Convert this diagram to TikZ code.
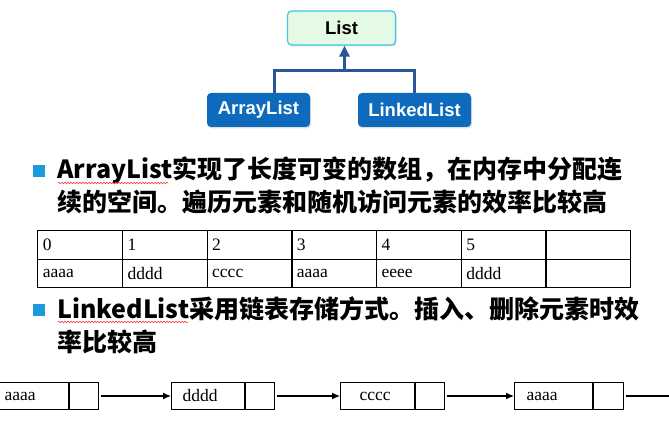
\documentclass[tikz,border=0pt]{standalone}
\usepackage{fontspec}
\setmainfont{Liberation Serif}
\newfontfamily\cjk{Noto Sans CJK SC}
\newfontfamily\boxfont{Liberation Sans}
\newfontfamily\cellfont{Liberation Serif}
\definecolor{boxblue}{RGB}{14, 106, 188}
\definecolor{treeblue}{RGB}{42, 86, 152}
\definecolor{listfill}{RGB}{228, 250, 228}
\definecolor{listline}{RGB}{60, 200, 235}
\definecolor{bullet}{RGB}{28, 155, 218}
\usetikzlibrary{arrows.meta}
\usetikzlibrary{calc}
\usetikzlibrary{positioning}
\usetikzlibrary{matrix}
\usetikzlibrary{shadows}
\usetikzlibrary{decorations.pathmorphing}
\tikzset{
  every matrix/.style={
    inner sep=0pt, column sep=-1.2pt, row sep=-1.2pt,
    matrix of nodes, nodes in empty cells,
    nodes={draw, line width=1.2pt, anchor=center, align=left,
           text width=74.7pt, inner xsep=5pt, minimum height=28.5pt,
           font=\cellfont\fontsize{17.5}{19}\selectfont},
    ampersand replacement=\&
  },
  class/.style={rounded corners=4pt, minimum height=34pt,
    font=\boxfont\bfseries\fontsize{18.5}{20}\selectfont,
    drop shadow={shadow xshift=1pt, shadow yshift=-1.5pt, opacity=0.25}},
  super/.style={class, draw=listline, fill=listfill, line width=1.2pt,
    minimum width=108pt},
  sub/.style={class, fill=boxblue, text=white},
  tree/.style={draw=treeblue, line width=3pt},
  dot/.style={fill=bullet, minimum size=12pt, inner sep=0pt},
  point/.style={anchor=north west, inner sep=0pt, align=left,
    font=\cjk\bfseries\fontsize{25}{33}\selectfont},
  typo/.style={draw=red!75, line width=0.6pt, decorate,
    decoration={snake, amplitude=0.8pt, segment length=3pt}},
  datum/.style={draw, line width=1.2pt, anchor=west, align=left,
    minimum height=27pt, font=\cellfont\fontsize{17.5}{19}\selectfont},
  ptr/.style={draw, line width=1.2pt, minimum width=29pt, minimum height=27pt},
  link/.style={line width=1.2pt, -{Latex[length=8pt, width=7pt]},
    shorten <=2pt}
}
\begin{document}
\begin{tikzpicture}[x=1pt, y=-1pt]
  \fill[white] (0,0) rectangle (669,430);
  \useasboundingbox (0,0) rectangle (669,430);

  % class tree
  \node[super] (list) at (341.5,28) {List};
  \node[sub, minimum width=103pt] (al) at (258.5,110) {ArrayList};
  \node[sub, minimum width=113pt] (ll) at (414.5,110) {LinkedList};
  \coordinate (fork) at ($(list.south)+(3pt,-25pt)$);
  \draw[tree] ([xshift=15.5pt]al.north) |- (fork) -| (ll.north);
  \draw[tree, -{Triangle[length=11pt, width=10pt]}]
    (fork) -- ([xshift=3pt]list.south);

  % first point
  \node[dot] (b1) at (38.5,171) {};
  \node[point] (t1) at (57,157)
    {ArrayList实现了长度可变的数组，在内存中分配连\\续的空间。遍历元素和随机访问元素的效率比较高};
  \draw[typo] (58,183) -- (168,183);

  \matrix (arr) [anchor=north west] at (37,230) {
    0 \& 1 \& 2 \& 3 \& 4 \& 5 \& \\
    aaaa \& dddd \& cccc \& aaaa \& eeee \& dddd \& \\
  };

  % second point
  \node[dot] (b2) at (38.5,310) {};
  \node[point] (t2) at (57,296)
    {LinkedList采用链表存储方式。插入、删除元素时效\\率比较高};
  \draw[typo] (58,322) -- (188,322);

  % linked nodes
  \node[datum, text width=59pt, inner xsep=5pt] (d1) at (-1,396) {aaaa};
  \node[ptr, right=0pt of d1] (p1) {};
  \node[datum, text width=51pt, inner xsep=11pt] (d2) at (171,396) {dddd};
  \node[ptr, right=0pt of d2] (p2) {};
  \node[datum, text width=36pt, inner xsep=19pt] (d3) at (340,396) {cccc};
  \node[ptr, right=0pt of d3] (p3) {};
  \node[datum, text width=54pt, inner xsep=12pt] (d4) at (514,396) {aaaa};
  \node[ptr, right=0pt of d4, minimum width=30pt] (p4) {};
  \coordinate (tail) at (672,396);
  \draw[link] (p1) -- (d2);
  \draw[link] (p2) -- (d3);
  \draw[link] (p3) -- (d4);
  \draw[line width=1.2pt, shorten <=2pt] (p4) -- (tail);
\end{tikzpicture}
\end{document}
